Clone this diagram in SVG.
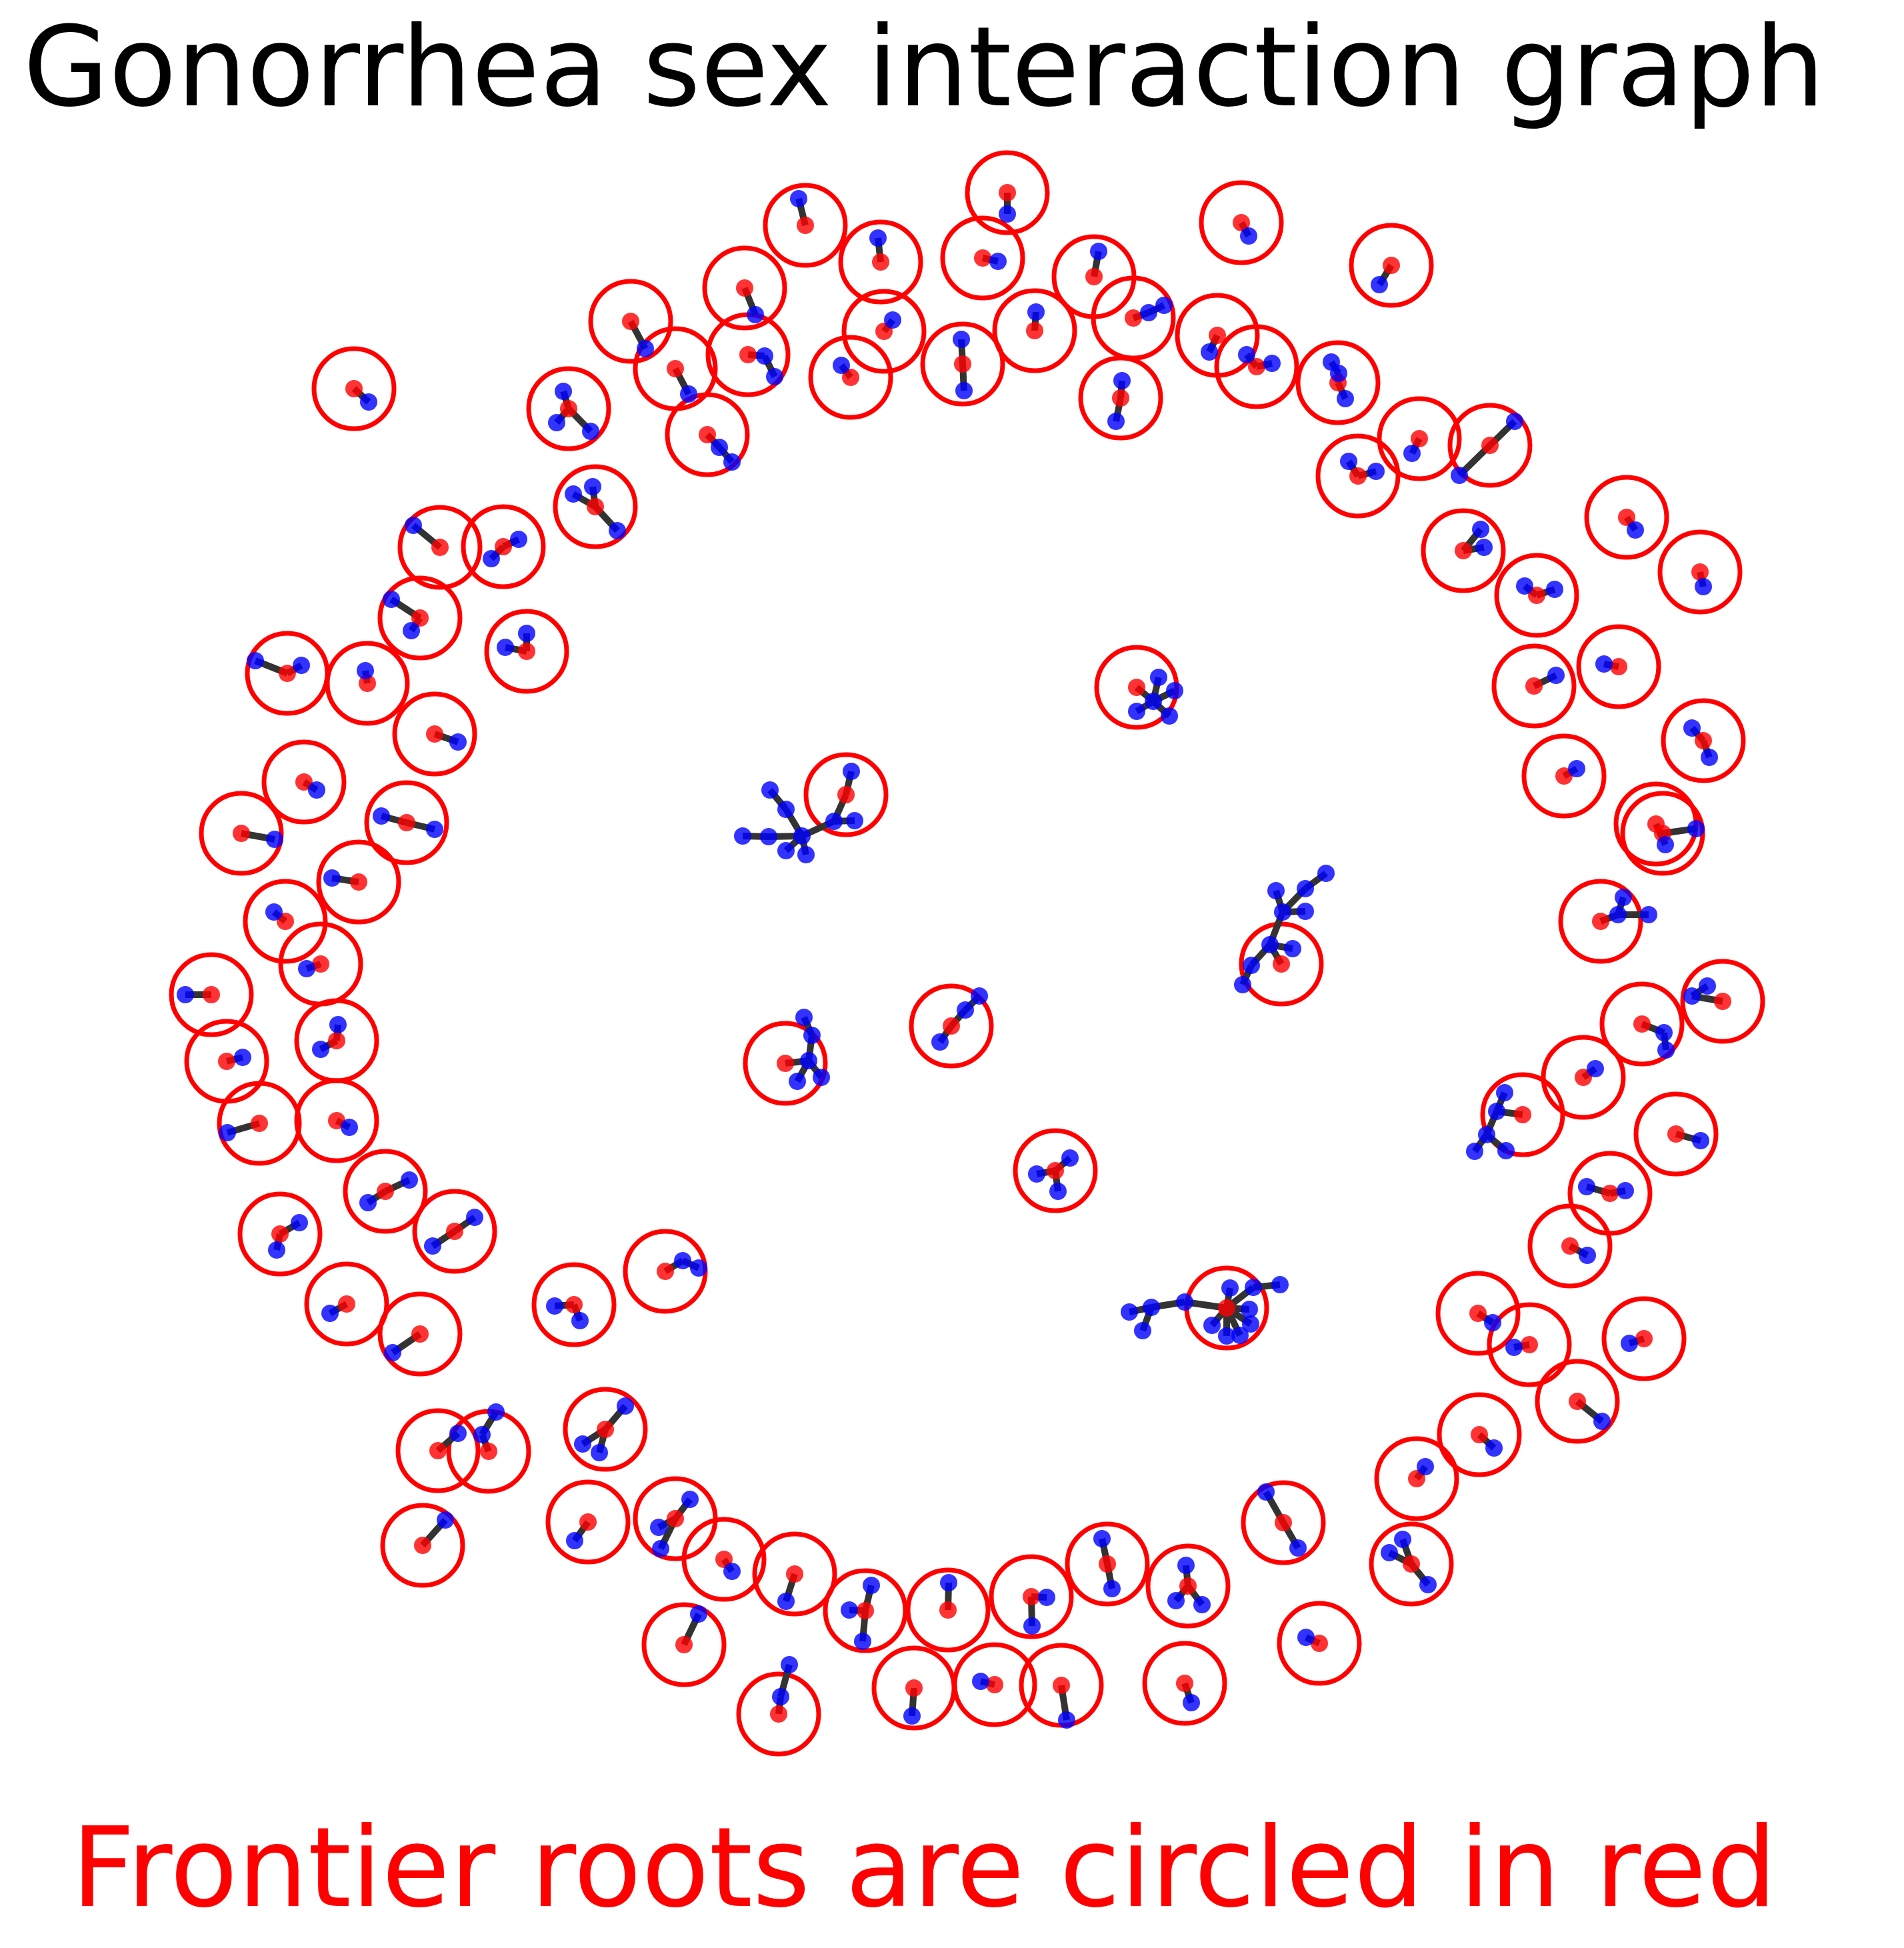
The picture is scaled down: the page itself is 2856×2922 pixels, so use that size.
<svg xmlns="http://www.w3.org/2000/svg" width="2856" height="2922" viewBox="0 0 2856 2922">
<style>
.ring{fill:none;stroke:#ff0000;stroke-width:7}
.e line{stroke:#333333;stroke-width:10}
.r{fill:#ff0000;fill-opacity:0.8}
.b{fill:#0000ff;fill-opacity:0.8}
.t{font-family:"DejaVu Sans","Liberation Sans",sans-serif;font-size:166px;text-anchor:middle}
</style>
<rect width="2856" height="2922" fill="#ffffff"/>
<text class="t" x="1386" y="158" fill="#000000">Gonorrhea sex interaction graph</text>
<text class="t" x="1386" y="2859" fill="#ff0000">Frontier roots are circled in red</text>
<g id="frontier-rings" class="ring">
<circle cx="1511" cy="289" r="60"/><circle cx="1208" cy="338" r="60"/><circle cx="1117" cy="432" r="60"/><circle cx="1321" cy="393" r="60"/><circle cx="1474" cy="387" r="60"/><circle cx="1326" cy="497" r="60"/><circle cx="1122" cy="532" r="60"/><circle cx="1276" cy="566" r="60"/><circle cx="1444" cy="546" r="60"/><circle cx="1552" cy="496" r="60"/><circle cx="1641" cy="415" r="60"/><circle cx="1700" cy="477" r="60"/><circle cx="1681" cy="597" r="60"/><circle cx="1061" cy="652" r="60"/><circle cx="1862" cy="334" r="60"/><circle cx="2087" cy="398" r="60"/><circle cx="1826" cy="503" r="60"/><circle cx="1885" cy="550" r="60"/><circle cx="2007" cy="574" r="60"/><circle cx="2129" cy="658" r="60"/><circle cx="2235" cy="668" r="60"/><circle cx="2037" cy="714" r="60"/><circle cx="2195" cy="826" r="60"/><circle cx="2440" cy="776" r="60"/><circle cx="2550" cy="858" r="60"/><circle cx="2305" cy="893" r="60"/><circle cx="2428" cy="1000" r="60"/><circle cx="2301" cy="1029" r="60"/>
<circle cx="531" cy="583" r="60"/><circle cx="946" cy="482" r="60"/><circle cx="1013" cy="553" r="60"/><circle cx="853" cy="613" r="60"/><circle cx="893" cy="760" r="60"/><circle cx="660" cy="821" r="60"/><circle cx="755" cy="820" r="60"/><circle cx="630" cy="927" r="60"/><circle cx="790" cy="977" r="60"/><circle cx="431" cy="1010" r="60"/><circle cx="551" cy="1025" r="60"/>
<circle cx="652" cy="1101" r="60"/><circle cx="456" cy="1173" r="60"/><circle cx="362" cy="1250" r="60"/><circle cx="610" cy="1234" r="60"/><circle cx="538" cy="1323" r="60"/><circle cx="428" cy="1382" r="60"/><circle cx="481" cy="1446" r="60"/><circle cx="317" cy="1492" r="60"/><circle cx="340" cy="1592" r="60"/><circle cx="505" cy="1561" r="60"/><circle cx="389" cy="1685" r="60"/><circle cx="505" cy="1681" r="60"/><circle cx="578" cy="1787" r="60"/>
<circle cx="1705" cy="1031" r="60"/><circle cx="1269" cy="1192" r="60"/><circle cx="1178" cy="1595" r="60"/><circle cx="1427" cy="1539" r="60"/><circle cx="1583" cy="1756" r="60"/>
<circle cx="2555" cy="1111" r="60"/><circle cx="2346" cy="1164" r="60"/><circle cx="2484" cy="1236" r="60"/><circle cx="2494" cy="1250" r="60"/><circle cx="2401" cy="1382" r="60"/><circle cx="1922" cy="1446" r="60"/><circle cx="2584" cy="1502" r="60"/><circle cx="2463" cy="1536" r="60"/><circle cx="2375" cy="1616" r="60"/><circle cx="2284" cy="1672" r="60"/><circle cx="2514" cy="1701" r="60"/><circle cx="2415" cy="1790" r="60"/>
<circle cx="420" cy="1851" r="60"/><circle cx="682" cy="1847" r="60"/><circle cx="520" cy="1956" r="60"/><circle cx="630" cy="2001" r="60"/><circle cx="861" cy="1957" r="60"/><circle cx="998" cy="1907" r="60"/><circle cx="657" cy="2176" r="60"/><circle cx="733" cy="2177" r="60"/><circle cx="908" cy="2144" r="60"/><circle cx="634" cy="2318" r="60"/><circle cx="882" cy="2283" r="60"/><circle cx="1013" cy="2278" r="60"/><circle cx="1026" cy="2467" r="60"/>
<circle cx="1840" cy="1962" r="60"/><circle cx="1086" cy="2339" r="60"/><circle cx="1192" cy="2361" r="60"/><circle cx="1298" cy="2416" r="60"/><circle cx="1422" cy="2415" r="60"/><circle cx="1547" cy="2395" r="60"/><circle cx="1661" cy="2346" r="60"/><circle cx="1782" cy="2379" r="60"/><circle cx="1168" cy="2571" r="60"/><circle cx="1371" cy="2532" r="60"/><circle cx="1492" cy="2527" r="60"/><circle cx="1592" cy="2528" r="60"/><circle cx="1777" cy="2525" r="60"/>
<circle cx="2355" cy="1869" r="60"/><circle cx="2217" cy="1970" r="60"/><circle cx="2294" cy="2017" r="60"/><circle cx="2466" cy="2008" r="60"/><circle cx="2366" cy="2102" r="60"/><circle cx="2219" cy="2152" r="60"/><circle cx="2125" cy="2218" r="60"/><circle cx="1925" cy="2284" r="60"/><circle cx="2117" cy="2346" r="60"/><circle cx="1979" cy="2465" r="60"/>
</g>
<g id="connectors" class="e">
<line x1="1511" y1="289" x2="1511" y2="321"/><line x1="1208" y1="338" x2="1198" y2="298"/><line x1="1117" y1="432" x2="1133" y2="472"/><line x1="1321" y1="393" x2="1317" y2="357"/><line x1="1474" y1="387" x2="1497" y2="392"/><line x1="1326" y1="497" x2="1339" y2="480"/><line x1="1122" y1="532" x2="1147" y2="534"/><line x1="1147" y1="534" x2="1162" y2="565"/><line x1="1276" y1="566" x2="1262" y2="548"/><line x1="1444" y1="546" x2="1442" y2="509"/><line x1="1444" y1="546" x2="1446" y2="586"/><line x1="1552" y1="496" x2="1554" y2="468"/><line x1="1641" y1="415" x2="1648" y2="377"/><line x1="1700" y1="477" x2="1723" y2="469"/><line x1="1723" y1="469" x2="1746" y2="458"/><line x1="1681" y1="597" x2="1683" y2="571"/><line x1="1681" y1="597" x2="1674" y2="632"/><line x1="1061" y1="652" x2="1079" y2="671"/><line x1="1079" y1="671" x2="1098" y2="693"/><line x1="1862" y1="334" x2="1873" y2="354"/><line x1="2087" y1="398" x2="2069" y2="427"/><line x1="1826" y1="503" x2="1814" y2="528"/><line x1="1885" y1="550" x2="1870" y2="532"/><line x1="1885" y1="550" x2="1908" y2="545"/><line x1="1997" y1="543" x2="2008" y2="560"/><line x1="2008" y1="560" x2="2007" y2="574"/><line x1="2007" y1="574" x2="2018" y2="598"/><line x1="2129" y1="658" x2="2118" y2="680"/><line x1="2235" y1="668" x2="2272" y2="632"/><line x1="2235" y1="668" x2="2189" y2="713"/><line x1="2037" y1="714" x2="2023" y2="692"/><line x1="2037" y1="714" x2="2064" y2="707"/><line x1="2195" y1="826" x2="2221" y2="794"/><line x1="2195" y1="826" x2="2226" y2="821"/><line x1="2440" y1="776" x2="2453" y2="795"/><line x1="2550" y1="858" x2="2555" y2="880"/><line x1="2305" y1="893" x2="2287" y2="879"/><line x1="2305" y1="893" x2="2332" y2="884"/><line x1="2428" y1="1000" x2="2406" y2="996"/><line x1="2301" y1="1029" x2="2334" y2="1013"/>
<line x1="531" y1="583" x2="553" y2="603"/><line x1="946" y1="482" x2="968" y2="523"/><line x1="1013" y1="553" x2="1033" y2="591"/><line x1="853" y1="613" x2="845" y2="587"/><line x1="853" y1="613" x2="835" y2="634"/><line x1="853" y1="613" x2="886" y2="647"/><line x1="893" y1="760" x2="860" y2="741"/><line x1="893" y1="760" x2="889" y2="730"/><line x1="893" y1="760" x2="926" y2="796"/><line x1="660" y1="821" x2="620" y2="788"/><line x1="755" y1="820" x2="778" y2="809"/><line x1="755" y1="820" x2="737" y2="838"/><line x1="630" y1="927" x2="587" y2="899"/><line x1="630" y1="927" x2="617" y2="946"/><line x1="790" y1="977" x2="790" y2="950"/><line x1="790" y1="977" x2="758" y2="971"/><line x1="431" y1="1010" x2="383" y2="991"/><line x1="431" y1="1010" x2="452" y2="998"/><line x1="551" y1="1025" x2="548" y2="1006"/>
<line x1="652" y1="1101" x2="687" y2="1113"/><line x1="456" y1="1173" x2="475" y2="1185"/><line x1="362" y1="1250" x2="412" y2="1259"/><line x1="610" y1="1234" x2="572" y2="1224"/><line x1="610" y1="1234" x2="652" y2="1244"/><line x1="538" y1="1323" x2="498" y2="1317"/><line x1="428" y1="1382" x2="411" y2="1368"/><line x1="481" y1="1446" x2="460" y2="1453"/><line x1="317" y1="1492" x2="278" y2="1492"/><line x1="340" y1="1592" x2="364" y2="1586"/><line x1="505" y1="1561" x2="507" y2="1537"/><line x1="505" y1="1561" x2="481" y2="1574"/><line x1="389" y1="1685" x2="341" y2="1699"/><line x1="505" y1="1681" x2="524" y2="1691"/><line x1="578" y1="1787" x2="552" y2="1804"/><line x1="578" y1="1787" x2="614" y2="1770"/>
<line x1="1705" y1="1031" x2="1730" y2="1052"/><line x1="1730" y1="1052" x2="1738" y2="1016"/><line x1="1730" y1="1052" x2="1762" y2="1036"/><line x1="1730" y1="1052" x2="1705" y2="1067"/><line x1="1730" y1="1052" x2="1754" y2="1074"/>
<line x1="1269" y1="1192" x2="1277" y2="1157"/><line x1="1269" y1="1192" x2="1251" y2="1232"/><line x1="1251" y1="1232" x2="1282" y2="1231"/><line x1="1251" y1="1232" x2="1203" y2="1254"/><line x1="1203" y1="1254" x2="1179" y2="1214"/><line x1="1179" y1="1214" x2="1155" y2="1185"/><line x1="1203" y1="1254" x2="1153" y2="1255"/><line x1="1153" y1="1255" x2="1114" y2="1254"/><line x1="1203" y1="1254" x2="1179" y2="1276"/><line x1="1203" y1="1254" x2="1209" y2="1282"/>
<line x1="1178" y1="1595" x2="1213" y2="1591"/><line x1="1213" y1="1591" x2="1218" y2="1553"/><line x1="1218" y1="1553" x2="1206" y2="1526"/><line x1="1213" y1="1591" x2="1196" y2="1622"/><line x1="1213" y1="1591" x2="1232" y2="1616"/>
<line x1="1410" y1="1563" x2="1427" y2="1539"/><line x1="1427" y1="1539" x2="1448" y2="1515"/><line x1="1448" y1="1515" x2="1469" y2="1494"/>
<line x1="1583" y1="1756" x2="1555" y2="1761"/><line x1="1583" y1="1756" x2="1605" y2="1737"/><line x1="1583" y1="1756" x2="1587" y2="1787"/>
<line x1="2555" y1="1111" x2="2538" y2="1092"/><line x1="2555" y1="1111" x2="2564" y2="1136"/><line x1="2346" y1="1164" x2="2365" y2="1153"/><line x1="2484" y1="1236" x2="2498" y2="1267"/><line x1="2494" y1="1250" x2="2544" y2="1243"/><line x1="2401" y1="1382" x2="2427" y2="1372"/><line x1="2427" y1="1372" x2="2435" y2="1346"/><line x1="2427" y1="1372" x2="2473" y2="1372"/>
<line x1="1922" y1="1446" x2="1905" y2="1417"/><line x1="1905" y1="1417" x2="1939" y2="1423"/><line x1="1905" y1="1417" x2="1877" y2="1448"/><line x1="1877" y1="1448" x2="1864" y2="1477"/><line x1="1905" y1="1417" x2="1924" y2="1368"/><line x1="1924" y1="1368" x2="1958" y2="1367"/><line x1="1924" y1="1368" x2="1914" y2="1336"/><line x1="1924" y1="1368" x2="1958" y2="1333"/><line x1="1958" y1="1333" x2="1989" y2="1310"/>
<line x1="2584" y1="1502" x2="2538" y2="1494"/><line x1="2538" y1="1494" x2="2561" y2="1479"/><line x1="2463" y1="1536" x2="2496" y2="1549"/><line x1="2496" y1="1549" x2="2499" y2="1575"/><line x1="2375" y1="1616" x2="2393" y2="1603"/>
<line x1="2284" y1="1672" x2="2245" y2="1667"/><line x1="2245" y1="1667" x2="2257" y2="1639"/><line x1="2245" y1="1667" x2="2230" y2="1702"/><line x1="2230" y1="1702" x2="2212" y2="1727"/><line x1="2230" y1="1702" x2="2259" y2="1726"/>
<line x1="2514" y1="1701" x2="2551" y2="1711"/><line x1="2415" y1="1790" x2="2380" y2="1780"/><line x1="2415" y1="1790" x2="2438" y2="1786"/>
<line x1="420" y1="1851" x2="449" y2="1834"/><line x1="420" y1="1851" x2="415" y2="1875"/><line x1="682" y1="1847" x2="712" y2="1826"/><line x1="682" y1="1847" x2="649" y2="1869"/><line x1="520" y1="1956" x2="495" y2="1970"/><line x1="630" y1="2001" x2="589" y2="2029"/><line x1="861" y1="1957" x2="832" y2="1959"/><line x1="861" y1="1957" x2="870" y2="1981"/><line x1="998" y1="1907" x2="1024" y2="1891"/><line x1="1024" y1="1891" x2="1048" y2="1902"/><line x1="657" y1="2176" x2="687" y2="2150"/><line x1="733" y1="2177" x2="723" y2="2152"/><line x1="723" y1="2152" x2="744" y2="2118"/><line x1="908" y1="2144" x2="938" y2="2109"/><line x1="908" y1="2144" x2="874" y2="2166"/><line x1="908" y1="2144" x2="899" y2="2179"/><line x1="634" y1="2318" x2="668" y2="2280"/><line x1="882" y1="2283" x2="862" y2="2311"/><line x1="1013" y1="2278" x2="1035" y2="2249"/><line x1="1013" y1="2278" x2="988" y2="2291"/><line x1="1013" y1="2278" x2="991" y2="2323"/><line x1="1026" y1="2467" x2="1048" y2="2421"/>
<line x1="1840" y1="1962" x2="1845" y2="1932"/><line x1="1840" y1="1962" x2="1880" y2="1931"/><line x1="1880" y1="1931" x2="1920" y2="1927"/><line x1="1840" y1="1962" x2="1874" y2="1964"/><line x1="1840" y1="1962" x2="1876" y2="1986"/><line x1="1840" y1="1962" x2="1860" y2="2003"/><line x1="1840" y1="1962" x2="1840" y2="2004"/><line x1="1840" y1="1962" x2="1818" y2="1988"/><line x1="1840" y1="1962" x2="1777" y2="1953"/><line x1="1777" y1="1953" x2="1727" y2="1961"/><line x1="1727" y1="1961" x2="1694" y2="1968"/><line x1="1727" y1="1961" x2="1714" y2="1996"/>
<line x1="1086" y1="2339" x2="1098" y2="2357"/><line x1="1192" y1="2361" x2="1179" y2="2402"/><line x1="1298" y1="2416" x2="1307" y2="2378"/><line x1="1298" y1="2416" x2="1274" y2="2415"/><line x1="1298" y1="2416" x2="1294" y2="2462"/><line x1="1422" y1="2415" x2="1423" y2="2374"/><line x1="1547" y1="2395" x2="1570" y2="2396"/><line x1="1547" y1="2395" x2="1548" y2="2439"/><line x1="1661" y1="2346" x2="1653" y2="2308"/><line x1="1661" y1="2346" x2="1668" y2="2383"/><line x1="1782" y1="2379" x2="1779" y2="2348"/><line x1="1782" y1="2379" x2="1764" y2="2401"/><line x1="1782" y1="2379" x2="1803" y2="2407"/><line x1="1168" y1="2571" x2="1171" y2="2545"/><line x1="1171" y1="2545" x2="1184" y2="2497"/><line x1="1371" y1="2532" x2="1368" y2="2574"/><line x1="1492" y1="2527" x2="1471" y2="2522"/><line x1="1592" y1="2528" x2="1600" y2="2580"/><line x1="1777" y1="2525" x2="1787" y2="2554"/>
<line x1="2355" y1="1869" x2="2381" y2="1883"/><line x1="2217" y1="1970" x2="2239" y2="1984"/><line x1="2294" y1="2017" x2="2271" y2="2021"/><line x1="2466" y1="2008" x2="2444" y2="2015"/><line x1="2366" y1="2102" x2="2403" y2="2132"/><line x1="2219" y1="2152" x2="2241" y2="2172"/><line x1="2125" y1="2218" x2="2138" y2="2200"/><line x1="1925" y1="2284" x2="1899" y2="2238"/><line x1="1925" y1="2284" x2="1947" y2="2322"/><line x1="2117" y1="2346" x2="2104" y2="2309"/><line x1="2117" y1="2346" x2="2084" y2="2329"/><line x1="2117" y1="2346" x2="2142" y2="2377"/><line x1="1979" y1="2465" x2="1959" y2="2456"/>
</g>
<g id="nodes">
<g id="A0"><circle class="r" cx="1511" cy="289" r="13"/></g><g id="A1"><circle class="b" cx="1511" cy="321" r="13"/></g>
<g id="B0"><circle class="r" cx="1208" cy="338" r="13"/></g><g id="B1"><circle class="b" cx="1198" cy="298" r="13"/></g>
<g id="C0"><circle class="r" cx="1117" cy="432" r="13"/></g><g id="C1"><circle class="b" cx="1133" cy="472" r="13"/></g>
<g id="D0"><circle class="r" cx="1321" cy="393" r="13"/></g><g id="D1"><circle class="b" cx="1317" cy="357" r="13"/></g>
<g id="E0"><circle class="r" cx="1474" cy="387" r="13"/></g><g id="E1"><circle class="b" cx="1497" cy="392" r="13"/></g>
<g id="F0"><circle class="r" cx="1326" cy="497" r="13"/></g><g id="F1"><circle class="b" cx="1339" cy="480" r="13"/></g>
<g id="G0"><circle class="r" cx="1122" cy="532" r="13"/></g><g id="G1"><circle class="b" cx="1147" cy="534" r="13"/></g><g id="G2"><circle class="b" cx="1162" cy="565" r="13"/></g>
<g id="H0"><circle class="r" cx="1276" cy="566" r="13"/></g><g id="H1"><circle class="b" cx="1262" cy="548" r="13"/></g>
<g id="I0"><circle class="r" cx="1444" cy="546" r="13"/></g><g id="I1"><circle class="b" cx="1442" cy="509" r="13"/></g><g id="I2"><circle class="b" cx="1446" cy="586" r="13"/></g>
<g id="J0"><circle class="r" cx="1552" cy="496" r="13"/></g><g id="J1"><circle class="b" cx="1554" cy="468" r="13"/></g>
<g id="K0"><circle class="r" cx="1641" cy="415" r="13"/></g><g id="K1"><circle class="b" cx="1648" cy="377" r="13"/></g>
<g id="L0"><circle class="r" cx="1700" cy="477" r="13"/></g><g id="L1"><circle class="b" cx="1723" cy="469" r="13"/></g><g id="L2"><circle class="b" cx="1746" cy="458" r="13"/></g>
<g id="M0"><circle class="r" cx="1681" cy="597" r="13"/></g><g id="M1"><circle class="b" cx="1683" cy="571" r="13"/></g><g id="M2"><circle class="b" cx="1674" cy="632" r="13"/></g>
<g id="N0"><circle class="r" cx="1061" cy="652" r="13"/></g><g id="N1"><circle class="b" cx="1079" cy="671" r="13"/></g><g id="N2"><circle class="b" cx="1098" cy="693" r="13"/></g>
<g id="P0"><circle class="r" cx="1862" cy="334" r="13"/></g><g id="P1"><circle class="b" cx="1873" cy="354" r="13"/></g>
<g id="Q0"><circle class="r" cx="2087" cy="398" r="13"/></g><g id="Q1"><circle class="b" cx="2069" cy="427" r="13"/></g>
<g id="R0"><circle class="r" cx="1826" cy="503" r="13"/></g><g id="R1"><circle class="b" cx="1814" cy="528" r="13"/></g>
<g id="S0"><circle class="r" cx="1885" cy="550" r="13"/></g><g id="S1"><circle class="b" cx="1870" cy="532" r="13"/></g><g id="S2"><circle class="b" cx="1908" cy="545" r="13"/></g>
<g id="T0"><circle class="r" cx="2007" cy="574" r="13"/></g><g id="T1"><circle class="b" cx="1997" cy="543" r="13"/></g><g id="T2"><circle class="b" cx="2008" cy="560" r="13"/></g><g id="T3"><circle class="b" cx="2018" cy="598" r="13"/></g>
<g id="U0"><circle class="r" cx="2129" cy="658" r="13"/></g><g id="U1"><circle class="b" cx="2118" cy="680" r="13"/></g>
<g id="V0"><circle class="r" cx="2235" cy="668" r="13"/></g><g id="V1"><circle class="b" cx="2272" cy="632" r="13"/></g><g id="V2"><circle class="b" cx="2189" cy="713" r="13"/></g>
<g id="W0"><circle class="r" cx="2037" cy="714" r="13"/></g><g id="W1"><circle class="b" cx="2023" cy="692" r="13"/></g><g id="W2"><circle class="b" cx="2064" cy="707" r="13"/></g>
<g id="X0"><circle class="r" cx="2195" cy="826" r="13"/></g><g id="X1"><circle class="b" cx="2221" cy="794" r="13"/></g><g id="X2"><circle class="b" cx="2226" cy="821" r="13"/></g>
<g id="Y0"><circle class="r" cx="2440" cy="776" r="13"/></g><g id="Y1"><circle class="b" cx="2453" cy="795" r="13"/></g>
<g id="Z0"><circle class="r" cx="2550" cy="858" r="13"/></g><g id="Z1"><circle class="b" cx="2555" cy="880" r="13"/></g>
<g id="AA0"><circle class="r" cx="2305" cy="893" r="13"/></g><g id="AA1"><circle class="b" cx="2287" cy="879" r="13"/></g><g id="AA2"><circle class="b" cx="2332" cy="884" r="13"/></g>
<g id="AB0"><circle class="r" cx="2428" cy="1000" r="13"/></g><g id="AB1"><circle class="b" cx="2406" cy="996" r="13"/></g>
<g id="AC0"><circle class="r" cx="2301" cy="1029" r="13"/></g><g id="AC1"><circle class="b" cx="2334" cy="1013" r="13"/></g>
<g id="a0"><circle class="r" cx="531" cy="583" r="13"/></g><g id="a1"><circle class="b" cx="553" cy="603" r="13"/></g>
<g id="b0"><circle class="r" cx="946" cy="482" r="13"/></g><g id="b1"><circle class="b" cx="968" cy="523" r="13"/></g>
<g id="c0"><circle class="r" cx="1013" cy="553" r="13"/></g><g id="c1"><circle class="b" cx="1033" cy="591" r="13"/></g>
<g id="d0"><circle class="r" cx="853" cy="613" r="13"/></g><g id="d1"><circle class="b" cx="845" cy="587" r="13"/></g><g id="d2"><circle class="b" cx="835" cy="634" r="13"/></g><g id="d3"><circle class="b" cx="886" cy="647" r="13"/></g>
<g id="f0"><circle class="r" cx="893" cy="760" r="13"/></g><g id="f1"><circle class="b" cx="860" cy="741" r="13"/></g><g id="f2"><circle class="b" cx="889" cy="730" r="13"/></g><g id="f3"><circle class="b" cx="926" cy="796" r="13"/></g>
<g id="g0"><circle class="r" cx="660" cy="821" r="13"/></g><g id="g1"><circle class="b" cx="620" cy="788" r="13"/></g>
<g id="h0"><circle class="r" cx="755" cy="820" r="13"/></g><g id="h1"><circle class="b" cx="778" cy="809" r="13"/></g><g id="h2"><circle class="b" cx="737" cy="838" r="13"/></g>
<g id="i0"><circle class="r" cx="630" cy="927" r="13"/></g><g id="i1"><circle class="b" cx="587" cy="899" r="13"/></g><g id="i2"><circle class="b" cx="617" cy="946" r="13"/></g>
<g id="j0"><circle class="r" cx="790" cy="977" r="13"/></g><g id="j1"><circle class="b" cx="790" cy="950" r="13"/></g><g id="j2"><circle class="b" cx="758" cy="971" r="13"/></g>
<g id="k0"><circle class="r" cx="431" cy="1010" r="13"/></g><g id="k1"><circle class="b" cx="383" cy="991" r="13"/></g><g id="k2"><circle class="b" cx="452" cy="998" r="13"/></g>
<g id="l0"><circle class="r" cx="551" cy="1025" r="13"/></g><g id="l1"><circle class="b" cx="548" cy="1006" r="13"/></g>
<g id="m0"><circle class="r" cx="652" cy="1101" r="13"/></g><g id="m1"><circle class="b" cx="687" cy="1113" r="13"/></g>
<g id="o0"><circle class="r" cx="456" cy="1173" r="13"/></g><g id="o1"><circle class="b" cx="475" cy="1185" r="13"/></g>
<g id="p0"><circle class="r" cx="362" cy="1250" r="13"/></g><g id="p1"><circle class="b" cx="412" cy="1259" r="13"/></g>
<g id="q0"><circle class="r" cx="610" cy="1234" r="13"/></g><g id="q1"><circle class="b" cx="572" cy="1224" r="13"/></g><g id="q2"><circle class="b" cx="652" cy="1244" r="13"/></g>
<g id="s0"><circle class="r" cx="538" cy="1323" r="13"/></g><g id="s1"><circle class="b" cx="498" cy="1317" r="13"/></g>
<g id="u0"><circle class="r" cx="428" cy="1382" r="13"/></g><g id="u1"><circle class="b" cx="411" cy="1368" r="13"/></g>
<g id="v0"><circle class="r" cx="481" cy="1446" r="13"/></g><g id="v1"><circle class="b" cx="460" cy="1453" r="13"/></g>
<g id="w0"><circle class="r" cx="317" cy="1492" r="13"/></g><g id="w1"><circle class="b" cx="278" cy="1492" r="13"/></g>
<g id="x0"><circle class="r" cx="340" cy="1592" r="13"/></g><g id="x1"><circle class="b" cx="364" cy="1586" r="13"/></g>
<g id="y0"><circle class="r" cx="505" cy="1561" r="13"/></g><g id="y1"><circle class="b" cx="507" cy="1537" r="13"/></g><g id="y2"><circle class="b" cx="481" cy="1574" r="13"/></g>
<g id="z0"><circle class="r" cx="389" cy="1685" r="13"/></g><g id="z1"><circle class="b" cx="341" cy="1699" r="13"/></g>
<g id="za0"><circle class="r" cx="505" cy="1681" r="13"/></g><g id="za1"><circle class="b" cx="524" cy="1691" r="13"/></g>
<g id="zb0"><circle class="r" cx="578" cy="1787" r="13"/></g><g id="zb1"><circle class="b" cx="552" cy="1804" r="13"/></g><g id="zb2"><circle class="b" cx="614" cy="1770" r="13"/></g>
<g id="s5a0"><circle class="r" cx="1705" cy="1031" r="13"/></g><g id="s5a1"><circle class="b" cx="1730" cy="1052" r="13"/></g><g id="s5a2"><circle class="b" cx="1738" cy="1016" r="13"/></g><g id="s5a3"><circle class="b" cx="1762" cy="1036" r="13"/></g><g id="s5a4"><circle class="b" cx="1705" cy="1067" r="13"/></g><g id="s5a5"><circle class="b" cx="1754" cy="1074" r="13"/></g>
<g id="s5b0"><circle class="r" cx="1269" cy="1192" r="13"/></g><g id="s5b1"><circle class="b" cx="1277" cy="1157" r="13"/></g><g id="s5b2"><circle class="b" cx="1251" cy="1232" r="13"/></g><g id="s5b3"><circle class="b" cx="1282" cy="1231" r="13"/></g><g id="s5b4"><circle class="b" cx="1203" cy="1254" r="13"/></g><g id="s5b5"><circle class="b" cx="1179" cy="1214" r="13"/></g><g id="s5b6"><circle class="b" cx="1155" cy="1185" r="13"/></g><g id="s5b7"><circle class="b" cx="1153" cy="1255" r="13"/></g><g id="s5b8"><circle class="b" cx="1114" cy="1254" r="13"/></g><g id="s5b9"><circle class="b" cx="1179" cy="1276" r="13"/></g><g id="s5b10"><circle class="b" cx="1209" cy="1282" r="13"/></g>
<g id="s5c0"><circle class="r" cx="1178" cy="1595" r="13"/></g><g id="s5c1"><circle class="b" cx="1213" cy="1591" r="13"/></g><g id="s5c2"><circle class="b" cx="1218" cy="1553" r="13"/></g><g id="s5c3"><circle class="b" cx="1206" cy="1526" r="13"/></g><g id="s5c4"><circle class="b" cx="1196" cy="1622" r="13"/></g><g id="s5c5"><circle class="b" cx="1232" cy="1616" r="13"/></g>
<g id="s5d0"><circle class="r" cx="1427" cy="1539" r="13"/></g><g id="s5d1"><circle class="b" cx="1448" cy="1515" r="13"/></g><g id="s5d2"><circle class="b" cx="1469" cy="1494" r="13"/></g><g id="s5d3"><circle class="b" cx="1410" cy="1563" r="13"/></g>
<g id="s5e0"><circle class="r" cx="1583" cy="1756" r="13"/></g><g id="s5e1"><circle class="b" cx="1555" cy="1761" r="13"/></g><g id="s5e2"><circle class="b" cx="1605" cy="1737" r="13"/></g><g id="s5e3"><circle class="b" cx="1587" cy="1787" r="13"/></g>
<g id="s6c0"><circle class="r" cx="2555" cy="1111" r="13"/></g><g id="s6c1"><circle class="b" cx="2538" cy="1092" r="13"/></g><g id="s6c2"><circle class="b" cx="2564" cy="1136" r="13"/></g>
<g id="s6d0"><circle class="r" cx="2346" cy="1164" r="13"/></g><g id="s6d1"><circle class="b" cx="2365" cy="1153" r="13"/></g>
<g id="s6e0"><circle class="r" cx="2484" cy="1236" r="13"/></g><g id="s6e1"><circle class="r" cx="2494" cy="1250" r="13"/></g><g id="s6e2"><circle class="b" cx="2498" cy="1267" r="13"/></g><g id="s6e3"><circle class="b" cx="2544" cy="1243" r="13"/></g>
<g id="s6f0"><circle class="r" cx="2401" cy="1382" r="13"/></g><g id="s6f1"><circle class="b" cx="2427" cy="1372" r="13"/></g><g id="s6f2"><circle class="b" cx="2435" cy="1346" r="13"/></g><g id="s6f3"><circle class="b" cx="2473" cy="1372" r="13"/></g>
<g id="s6g0"><circle class="r" cx="1922" cy="1446" r="13"/></g><g id="s6g1"><circle class="b" cx="1905" cy="1417" r="13"/></g><g id="s6g2"><circle class="b" cx="1939" cy="1423" r="13"/></g><g id="s6g3"><circle class="b" cx="1877" cy="1448" r="13"/></g><g id="s6g4"><circle class="b" cx="1864" cy="1477" r="13"/></g><g id="s6g5"><circle class="b" cx="1924" cy="1368" r="13"/></g><g id="s6g6"><circle class="b" cx="1958" cy="1367" r="13"/></g><g id="s6g7"><circle class="b" cx="1914" cy="1336" r="13"/></g><g id="s6g8"><circle class="b" cx="1958" cy="1333" r="13"/></g><g id="s6g9"><circle class="b" cx="1989" cy="1310" r="13"/></g>
<g id="s6h0"><circle class="r" cx="2584" cy="1502" r="13"/></g><g id="s6h1"><circle class="b" cx="2538" cy="1494" r="13"/></g><g id="s6h2"><circle class="b" cx="2561" cy="1479" r="13"/></g>
<g id="s6i0"><circle class="r" cx="2463" cy="1536" r="13"/></g><g id="s6i1"><circle class="b" cx="2496" cy="1549" r="13"/></g><g id="s6i2"><circle class="b" cx="2499" cy="1575" r="13"/></g>
<g id="s6j0"><circle class="r" cx="2375" cy="1616" r="13"/></g><g id="s6j1"><circle class="b" cx="2393" cy="1603" r="13"/></g>
<g id="s6k0"><circle class="r" cx="2284" cy="1672" r="13"/></g><g id="s6k1"><circle class="b" cx="2245" cy="1667" r="13"/></g><g id="s6k2"><circle class="b" cx="2257" cy="1639" r="13"/></g><g id="s6k3"><circle class="b" cx="2230" cy="1702" r="13"/></g><g id="s6k4"><circle class="b" cx="2212" cy="1727" r="13"/></g><g id="s6k5"><circle class="b" cx="2259" cy="1726" r="13"/></g>
<g id="s6l0"><circle class="r" cx="2514" cy="1701" r="13"/></g><g id="s6l1"><circle class="b" cx="2551" cy="1711" r="13"/></g>
<g id="s6m0"><circle class="r" cx="2415" cy="1790" r="13"/></g><g id="s6m1"><circle class="b" cx="2380" cy="1780" r="13"/></g><g id="s6m2"><circle class="b" cx="2438" cy="1786" r="13"/></g>
<g id="s7a0"><circle class="r" cx="420" cy="1851" r="13"/></g><g id="s7a1"><circle class="b" cx="449" cy="1834" r="13"/></g><g id="s7a2"><circle class="b" cx="415" cy="1875" r="13"/></g>
<g id="s7b0"><circle class="r" cx="682" cy="1847" r="13"/></g><g id="s7b1"><circle class="b" cx="712" cy="1826" r="13"/></g><g id="s7b2"><circle class="b" cx="649" cy="1869" r="13"/></g>
<g id="s7c0"><circle class="r" cx="520" cy="1956" r="13"/></g><g id="s7c1"><circle class="b" cx="495" cy="1970" r="13"/></g>
<g id="s7d0"><circle class="r" cx="630" cy="2001" r="13"/></g><g id="s7d1"><circle class="b" cx="589" cy="2029" r="13"/></g>
<g id="s7e0"><circle class="r" cx="861" cy="1957" r="13"/></g><g id="s7e1"><circle class="b" cx="832" cy="1959" r="13"/></g><g id="s7e2"><circle class="b" cx="870" cy="1981" r="13"/></g>
<g id="s7f0"><circle class="r" cx="998" cy="1907" r="13"/></g><g id="s7f1"><circle class="b" cx="1024" cy="1891" r="13"/></g><g id="s7f2"><circle class="b" cx="1048" cy="1902" r="13"/></g>
<g id="s7g0"><circle class="r" cx="657" cy="2176" r="13"/></g><g id="s7g1"><circle class="b" cx="687" cy="2150" r="13"/></g>
<g id="s7h0"><circle class="r" cx="733" cy="2177" r="13"/></g><g id="s7h1"><circle class="b" cx="723" cy="2152" r="13"/></g><g id="s7h2"><circle class="b" cx="744" cy="2118" r="13"/></g>
<g id="s7i0"><circle class="r" cx="908" cy="2144" r="13"/></g><g id="s7i1"><circle class="b" cx="938" cy="2109" r="13"/></g><g id="s7i2"><circle class="b" cx="874" cy="2166" r="13"/></g><g id="s7i3"><circle class="b" cx="899" cy="2179" r="13"/></g>
<g id="s7j0"><circle class="r" cx="634" cy="2318" r="13"/></g><g id="s7j1"><circle class="b" cx="668" cy="2280" r="13"/></g>
<g id="s7k0"><circle class="r" cx="882" cy="2283" r="13"/></g><g id="s7k1"><circle class="b" cx="862" cy="2311" r="13"/></g>
<g id="s7l0"><circle class="r" cx="1013" cy="2278" r="13"/></g><g id="s7l1"><circle class="b" cx="1035" cy="2249" r="13"/></g><g id="s7l2"><circle class="b" cx="988" cy="2291" r="13"/></g><g id="s7l3"><circle class="b" cx="991" cy="2323" r="13"/></g>
<g id="s7m0"><circle class="r" cx="1026" cy="2467" r="13"/></g><g id="s7m1"><circle class="b" cx="1048" cy="2421" r="13"/></g>
<g id="s8a0"><circle class="r" cx="1840" cy="1962" r="13"/></g><g id="s8a1"><circle class="b" cx="1845" cy="1932" r="13"/></g><g id="s8a2"><circle class="b" cx="1880" cy="1931" r="13"/></g><g id="s8a3"><circle class="b" cx="1920" cy="1927" r="13"/></g><g id="s8a4"><circle class="b" cx="1874" cy="1964" r="13"/></g><g id="s8a5"><circle class="b" cx="1876" cy="1986" r="13"/></g><g id="s8a6"><circle class="b" cx="1860" cy="2003" r="13"/></g><g id="s8a7"><circle class="b" cx="1840" cy="2004" r="13"/></g><g id="s8a8"><circle class="b" cx="1818" cy="1988" r="13"/></g><g id="s8a9"><circle class="b" cx="1777" cy="1953" r="13"/></g><g id="s8a10"><circle class="b" cx="1727" cy="1961" r="13"/></g><g id="s8a11"><circle class="b" cx="1694" cy="1968" r="13"/></g><g id="s8a12"><circle class="b" cx="1714" cy="1996" r="13"/></g>
<g id="s8b0"><circle class="r" cx="1086" cy="2339" r="13"/></g><g id="s8b1"><circle class="b" cx="1098" cy="2357" r="13"/></g>
<g id="s8c0"><circle class="r" cx="1192" cy="2361" r="13"/></g><g id="s8c1"><circle class="b" cx="1179" cy="2402" r="13"/></g>
<g id="s8d0"><circle class="r" cx="1298" cy="2416" r="13"/></g><g id="s8d1"><circle class="b" cx="1307" cy="2378" r="13"/></g><g id="s8d2"><circle class="b" cx="1274" cy="2415" r="13"/></g><g id="s8d3"><circle class="b" cx="1294" cy="2462" r="13"/></g>
<g id="s8e0"><circle class="r" cx="1422" cy="2415" r="13"/></g><g id="s8e1"><circle class="b" cx="1423" cy="2374" r="13"/></g>
<g id="s8f0"><circle class="r" cx="1547" cy="2395" r="13"/></g><g id="s8f1"><circle class="b" cx="1570" cy="2396" r="13"/></g><g id="s8f2"><circle class="b" cx="1548" cy="2439" r="13"/></g>
<g id="s8g0"><circle class="r" cx="1661" cy="2346" r="13"/></g><g id="s8g1"><circle class="b" cx="1653" cy="2308" r="13"/></g><g id="s8g2"><circle class="b" cx="1668" cy="2383" r="13"/></g>
<g id="s8h0"><circle class="r" cx="1782" cy="2379" r="13"/></g><g id="s8h1"><circle class="b" cx="1779" cy="2348" r="13"/></g><g id="s8h2"><circle class="b" cx="1764" cy="2401" r="13"/></g><g id="s8h3"><circle class="b" cx="1803" cy="2407" r="13"/></g>
<g id="s8j0"><circle class="r" cx="1168" cy="2571" r="13"/></g><g id="s8j1"><circle class="b" cx="1171" cy="2545" r="13"/></g><g id="s8j2"><circle class="b" cx="1184" cy="2497" r="13"/></g>
<g id="s8k0"><circle class="r" cx="1371" cy="2532" r="13"/></g><g id="s8k1"><circle class="b" cx="1368" cy="2574" r="13"/></g>
<g id="s8l0"><circle class="r" cx="1492" cy="2527" r="13"/></g><g id="s8l1"><circle class="b" cx="1471" cy="2522" r="13"/></g>
<g id="s8m0"><circle class="r" cx="1592" cy="2528" r="13"/></g><g id="s8m1"><circle class="b" cx="1600" cy="2580" r="13"/></g>
<g id="s8n0"><circle class="r" cx="1777" cy="2525" r="13"/></g><g id="s8n1"><circle class="b" cx="1787" cy="2554" r="13"/></g>
<g id="s9a0"><circle class="r" cx="2355" cy="1869" r="13"/></g><g id="s9a1"><circle class="b" cx="2381" cy="1883" r="13"/></g>
<g id="s9c0"><circle class="r" cx="2217" cy="1970" r="13"/></g><g id="s9c1"><circle class="b" cx="2239" cy="1984" r="13"/></g>
<g id="s9d0"><circle class="r" cx="2294" cy="2017" r="13"/></g><g id="s9d1"><circle class="b" cx="2271" cy="2021" r="13"/></g>
<g id="s9e0"><circle class="r" cx="2466" cy="2008" r="13"/></g><g id="s9e1"><circle class="b" cx="2444" cy="2015" r="13"/></g>
<g id="s9f0"><circle class="r" cx="2366" cy="2102" r="13"/></g><g id="s9f1"><circle class="b" cx="2403" cy="2132" r="13"/></g>
<g id="s9g0"><circle class="r" cx="2219" cy="2152" r="13"/></g><g id="s9g1"><circle class="b" cx="2241" cy="2172" r="13"/></g>
<g id="s9h0"><circle class="r" cx="2125" cy="2218" r="13"/></g><g id="s9h1"><circle class="b" cx="2138" cy="2200" r="13"/></g>
<g id="s9i0"><circle class="r" cx="1925" cy="2284" r="13"/></g><g id="s9i1"><circle class="b" cx="1899" cy="2238" r="13"/></g><g id="s9i2"><circle class="b" cx="1947" cy="2322" r="13"/></g>
<g id="s9j0"><circle class="r" cx="2117" cy="2346" r="13"/></g><g id="s9j1"><circle class="b" cx="2104" cy="2309" r="13"/></g><g id="s9j2"><circle class="b" cx="2084" cy="2329" r="13"/></g><g id="s9j3"><circle class="b" cx="2142" cy="2377" r="13"/></g>
<g id="s9k0"><circle class="r" cx="1979" cy="2465" r="13"/></g><g id="s9k1"><circle class="b" cx="1959" cy="2456" r="13"/></g>
</g>
</svg>
